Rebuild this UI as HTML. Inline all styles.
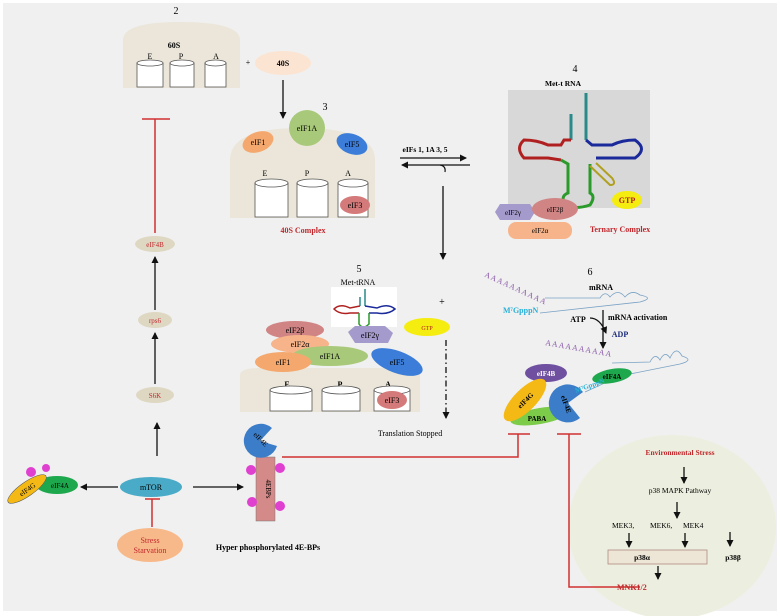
<!DOCTYPE html>
<html><head><meta charset="utf-8"><style>
html,body{margin:0;padding:0;background:#fff}
svg{display:block}
text{font-family:"Liberation Serif",serif}
</style></head><body>
<svg width="780" height="616" viewBox="0 0 780 616" xmlns="http://www.w3.org/2000/svg">
<defs>
<marker id="ah" markerUnits="userSpaceOnUse" markerWidth="8" markerHeight="8" refX="6" refY="4" orient="auto"><path d="M0,0.5 L7,4 L0,7.5 Z" fill="#111"/></marker>
</defs>
<rect x="3" y="3" width="774" height="608" fill="#f0f0f0"/>

<!-- Section 2 -->
<text x="176" y="14" font-size="10" text-anchor="middle">2</text>
<path d="M123,88 L123,40 Q123,22 180,22 Q240,22 240,40 L240,88 Z" fill="#ebe6d9"/>
<text x="174" y="48" font-size="8" font-weight="bold" text-anchor="middle">60S</text>
<g fill="#fff" stroke="#555" stroke-width="0.8">
<rect x="137" y="63" width="26" height="24"/><ellipse cx="150" cy="63" rx="13" ry="3"/>
<rect x="170" y="63" width="24" height="24"/><ellipse cx="182" cy="63" rx="12" ry="3"/>
<rect x="205" y="63" width="21" height="24"/><ellipse cx="215.5" cy="63" rx="10.5" ry="3"/>
</g>
<text x="150" y="59" font-size="8" text-anchor="middle">E</text>
<text x="181" y="59" font-size="8" text-anchor="middle">P</text>
<text x="216" y="59" font-size="8" text-anchor="middle">A</text>
<text x="248" y="65" font-size="8" text-anchor="middle">+</text>
<ellipse cx="283" cy="63" rx="28" ry="12" fill="#fbe4d2"/>
<text x="283" y="66" font-size="8" font-weight="bold" text-anchor="middle">40S</text>
<line x1="283" y1="80" x2="283" y2="118" stroke="#111" stroke-width="1.3" marker-end="url(#ah)"/>

<!-- Section 3 -->
<text x="325" y="110" font-size="10" text-anchor="middle">3</text>
<path d="M230,218 L230,160 Q230,128 300,128 Q375,128 375,160 L375,218 Z" fill="#ebe6d9"/>
<circle cx="307" cy="128" r="18" fill="#a8c97a"/>
<text x="307" y="131" font-size="8" text-anchor="middle">eIF1A</text>
<ellipse cx="258" cy="142" rx="16" ry="10" fill="#f4a86e" transform="rotate(-20 258 142)"/>
<text x="258" y="145" font-size="8" text-anchor="middle">eIF1</text>
<ellipse cx="352" cy="144" rx="16" ry="10" fill="#3b7dd8" transform="rotate(20 352 144)"/>
<text x="352" y="147" font-size="8" text-anchor="middle">eIF5</text>
<text x="265" y="176" font-size="8" text-anchor="middle">E</text>
<text x="307" y="176" font-size="8" text-anchor="middle">P</text>
<text x="348" y="176" font-size="8" text-anchor="middle">A</text>
<g fill="#fff" stroke="#555" stroke-width="0.8">
<rect x="255" y="183" width="33" height="34"/><ellipse cx="271.5" cy="183" rx="16.5" ry="4"/>
<rect x="297" y="183" width="31" height="34"/><ellipse cx="312.5" cy="183" rx="15.5" ry="4"/>
<rect x="338" y="183" width="30" height="34"/><ellipse cx="353" cy="183" rx="15" ry="4"/>
</g>
<ellipse cx="355" cy="205" rx="15" ry="9" fill="#d47a7a"/>
<text x="355" y="208" font-size="8" text-anchor="middle">eIF3</text>
<text x="303" y="233" font-size="8" font-weight="bold" fill="#c0282d" text-anchor="middle">40S Complex</text>

<!-- eIFs arrows -->
<text x="425" y="152" font-size="7.5" font-weight="bold" text-anchor="middle">eIFs 1, 1A 3, 5</text>
<line x1="400" y1="158" x2="466" y2="158" stroke="#111" stroke-width="1.2" marker-end="url(#ah)"/>
<line x1="470" y1="165" x2="402" y2="165" stroke="#111" stroke-width="1.2" marker-end="url(#ah)"/>
<path d="M440,165 Q446,166 445,172" fill="none" stroke="#111" stroke-width="1.2"/>
<line x1="443" y1="186" x2="443" y2="259" stroke="#111" stroke-width="1.3" marker-end="url(#ah)"/>

<!-- Section 4 -->
<text x="575" y="72" font-size="10" text-anchor="middle">4</text>
<text x="563" y="86" font-size="7.5" font-weight="bold" text-anchor="middle">Met-t RNA</text>
<rect x="508" y="90" width="142" height="118" fill="#d8d8d8"/>
<g fill="none" stroke-width="3">
<path d="M586,93 L586,140" stroke="#2a8a8a"/>
<path d="M571,114 L571,140" stroke="#2a8a8a"/>
<path d="M571,140 L564,140 L561,145 L548,145 Q537,140 524,140 Q515,148 524,158 Q537,158 548,158 L561,160" stroke="#b02020"/>
<path d="M586,140 L592,145 L612,145 Q622,140 635,140 Q648,149 635,158 Q622,158 612,158 L596,158" stroke="#1a2a9a"/>
<path d="M561,160 L568,164 L568,193 Q560,196 565,205 Q575,210 590,205 Q596,196 590,193 L590,164" stroke="#2a9a2a"/>
<path d="M590,166 L610,185 Q617,185 612,178 L596,163" stroke="#b0a020" stroke-width="2"/>
</g>
<ellipse cx="627" cy="200" rx="15" ry="9" fill="#f5ec10"/>
<text x="627" y="203" font-size="8" fill="#b02020" font-weight="bold" text-anchor="middle">GTP</text>
<path d="M495,212 L500,204 L530,204 L535,212 L530,220 L500,220 Z" fill="#a49acb"/>
<text x="513" y="215" font-size="7" text-anchor="middle">eIF2γ</text>
<ellipse cx="555" cy="209" rx="23" ry="11" fill="#d08484"/>
<text x="555" y="212" font-size="7" text-anchor="middle">eIF2β</text>
<rect x="508" y="222" width="64" height="17" rx="8" fill="#f7b48a"/>
<text x="540" y="233" font-size="7" text-anchor="middle">eIF2α</text>
<text x="620" y="232" font-size="8" font-weight="bold" fill="#c0282d" text-anchor="middle">Ternary Complex</text>

<!-- Section 5 -->
<text x="359" y="272" font-size="10" text-anchor="middle">5</text>
<text x="358" y="285" font-size="8" text-anchor="middle">Met-tRNA</text>
<path d="M240,412 L240,375 Q240,368 260,368 L420,368 L420,412 Z" fill="#ebe6d9"/>
<rect x="331" y="287" width="66" height="40" fill="#fff"/>
<g fill="none" stroke-width="1.5">
<path d="M365,289 L365,306 M360,297 L360,306" stroke="#2a8a8a"/>
<path d="M360,306 L350,308 Q340,303 334,309 Q340,315 350,313 L359,313" stroke="#b02020"/>
<path d="M365,306 L377,308 Q388,303 395,309 Q388,315 377,313 L369,313" stroke="#1a2a9a"/>
<path d="M359,313 L359,324 Q363,330 369,324 L369,313" stroke="#2a9a2a"/>
</g>
<ellipse cx="427" cy="327" rx="23" ry="9" fill="#f5ec10"/>
<text x="427" y="330" font-size="6" fill="#b02020" text-anchor="middle">GTP</text>
<ellipse cx="295" cy="330" rx="29" ry="9" fill="#d08484"/>
<text x="295" y="333" font-size="8" text-anchor="middle">eIF2β</text>
<path d="M348,332 L355,326 L385,326 L393,333 L388,343 L355,343 Z" fill="#a49acb"/>
<text x="370" y="338" font-size="8" text-anchor="middle">eIF2γ</text>
<ellipse cx="300" cy="344" rx="29" ry="9" fill="#f7b48a"/>
<text x="300" y="347" font-size="8" text-anchor="middle">eIF2α</text>
<ellipse cx="330" cy="356" rx="38" ry="10" fill="#a8c97a"/>
<text x="330" y="359" font-size="8" text-anchor="middle">eIF1A</text>
<ellipse cx="283" cy="362" rx="28" ry="10" fill="#f4a86e"/>
<text x="283" y="365" font-size="8" text-anchor="middle">eIF1</text>
<ellipse cx="397" cy="362" rx="27" ry="11" fill="#3b7dd8" transform="rotate(20 397 362)"/>
<text x="397" y="365" font-size="8" text-anchor="middle">eIF5</text>
<text x="287" y="387" font-size="8" font-weight="bold" text-anchor="middle">E</text>
<text x="340" y="387" font-size="8" font-weight="bold" text-anchor="middle">P</text>
<text x="388" y="387" font-size="8" font-weight="bold" text-anchor="middle">A</text>
<g fill="#fff" stroke="#555" stroke-width="0.8">
<rect x="270" y="390" width="42" height="21"/><ellipse cx="291" cy="390" rx="21" ry="4"/>
<rect x="322" y="390" width="38" height="21"/><ellipse cx="341" cy="390" rx="19" ry="4"/>
<rect x="374" y="390" width="36" height="21"/><ellipse cx="392" cy="390" rx="18" ry="4"/>
</g>
<ellipse cx="392" cy="400" rx="15" ry="9" fill="#d47a7a"/>
<text x="392" y="403" font-size="8" text-anchor="middle">eIF3</text>
<text x="442" y="305" font-size="10" text-anchor="middle">+</text>
<line x1="446" y1="340" x2="446" y2="418" stroke="#111" stroke-width="1.3" stroke-dasharray="6,3,1.5,3" marker-end="url(#ah)"/>
<text x="410" y="436" font-size="8" text-anchor="middle">Translation Stopped</text>

<!-- Section 6 -->
<text x="590" y="275" font-size="10" text-anchor="middle">6</text>
<text x="487" y="277" font-size="8" fill="#8a5aa8" transform="rotate(25 487 270)" letter-spacing="1">AAAAAAAAAA</text>
<text x="601" y="290" font-size="8" font-weight="bold" text-anchor="middle">mRNA</text>
<path d="M545,298 L600,298 Q605,290 610,297 Q618,288 625,297 Q632,289 640,295 Q655,298 640,302 L540,313" fill="none" stroke="#7aa2c4" stroke-width="0.8"/>
<text x="503" y="313" font-size="8" font-weight="bold" fill="#27b0d8">M⁷GpppN</text>
<text x="578" y="322" font-size="8" font-weight="bold" text-anchor="middle">ATP</text>
<text x="608" y="320" font-size="8" font-weight="bold">mRNA activation</text>
<text x="620" y="337" font-size="8" font-weight="bold" fill="#1a2a7a" text-anchor="middle">ADP</text>
<path d="M590,318 Q600,318 606,333" fill="none" stroke="#111" stroke-width="1.3" marker-end="url(#ah)"/>
<line x1="603" y1="310" x2="603" y2="348" stroke="#111" stroke-width="1.3" marker-end="url(#ah)"/>
<text x="545" y="345" font-size="8" fill="#8a5aa8" transform="rotate(10 545 345)" letter-spacing="1">AAAAAAAAAA</text>
<path d="M612,363 L650,362 Q655,352 660,360 Q665,350 670,358 Q676,345 682,356 Q695,360 680,364 L620,376 L585,392" fill="none" stroke="#7aa2c4" stroke-width="0.8"/>
<ellipse cx="612" cy="376" rx="20" ry="7" fill="#1ea84e" transform="rotate(-10 612 376)"/>
<text x="612" y="379" font-size="7" font-weight="bold" text-anchor="middle">eIF4A</text>
<ellipse cx="546" cy="373" rx="21" ry="9" fill="#6e4fa0"/>
<text x="546" y="376" font-size="7" font-weight="bold" fill="#fff" text-anchor="middle">eIF4B</text>
<ellipse cx="540" cy="416" rx="30" ry="8" fill="#7ccc4a" transform="rotate(-10 540 416)"/>
<text x="537" y="421" font-size="7" font-weight="bold" text-anchor="middle">PABA</text>
<ellipse cx="525" cy="400" rx="28" ry="11" fill="#f5b916" transform="rotate(-45 525 400)"/>
<text x="525" y="403" font-size="7" font-weight="bold" text-anchor="middle" transform="rotate(-45 525 400)">eIF4G</text>
<path d="M568,403 L580,418 A19,19 0 1 1 583,392 Z" fill="#3b7dc8"/>
<text x="564" y="405" font-size="7" font-weight="bold" text-anchor="middle" transform="rotate(70 564 405)">eIF4E</text>
<text x="576" y="393" font-size="7" font-weight="bold" fill="#27b0d8" transform="rotate(-20 576 393)">M⁷GpppN</text>

<!-- Left pathway -->
<line x1="155" y1="119" x2="155" y2="233" stroke="#d03030" stroke-width="1.5"/>
<line x1="142" y1="119" x2="170" y2="119" stroke="#d03030" stroke-width="1.5"/>
<ellipse cx="155" cy="244" rx="20" ry="8" fill="#ded7c2"/>
<text x="155" y="247" font-size="7" fill="#c0282d" text-anchor="middle">eIF4B</text>
<line x1="155" y1="310" x2="155" y2="257" stroke="#111" stroke-width="1.3" marker-end="url(#ah)"/>
<ellipse cx="155" cy="320" rx="17" ry="8" fill="#ded7c2"/>
<text x="155" y="323" font-size="7" fill="#c0282d" text-anchor="middle">rps6</text>
<line x1="155" y1="384" x2="155" y2="333" stroke="#111" stroke-width="1.3" marker-end="url(#ah)"/>
<ellipse cx="155" cy="395" rx="19" ry="8" fill="#ded7c2"/>
<text x="155" y="398" font-size="7" fill="#c0282d" text-anchor="middle">S6K</text>
<line x1="157" y1="456" x2="157" y2="423" stroke="#111" stroke-width="1.3" marker-end="url(#ah)"/>
<ellipse cx="151" cy="487" rx="31" ry="10" fill="#4aabc8"/>
<text x="151" y="490" font-size="8" text-anchor="middle">mTOR</text>
<line x1="118" y1="487" x2="81" y2="487" stroke="#111" stroke-width="1.3" marker-end="url(#ah)"/>
<line x1="193" y1="487" x2="243" y2="487" stroke="#111" stroke-width="1.3" marker-end="url(#ah)"/>
<ellipse cx="57" cy="485" rx="21" ry="9" fill="#1ea84e"/>
<text x="60" y="488" font-size="7" text-anchor="middle">eIF4A</text>
<circle cx="31" cy="472" r="5" fill="#e040d0"/><circle cx="46" cy="468" r="4" fill="#e040d0"/>
<ellipse cx="27" cy="489" rx="23" ry="7" fill="#f5b916" stroke="#555" stroke-width="0.5" transform="rotate(-35 27 489)"/>
<text x="27" y="492" font-size="7" text-anchor="middle" transform="rotate(-35 27 489)">eIF4G</text>
<line x1="152" y1="499" x2="152" y2="527" stroke="#d03030" stroke-width="1.5"/>
<line x1="145" y1="499" x2="160" y2="499" stroke="#d03030" stroke-width="1.5"/>
<ellipse cx="150" cy="545" rx="33" ry="17" fill="#f8b98a"/>
<text x="150" y="543" font-size="8" fill="#c0282d" text-anchor="middle">Stress</text>
<text x="150" y="553" font-size="8" fill="#c0282d" text-anchor="middle">Starvation</text>
<rect x="256" y="457" width="19" height="64" fill="#d48a88" stroke="#777" stroke-width="0.5"/>
<text x="266" y="489" font-size="7" text-anchor="middle" transform="rotate(90 266 489)">4EBPs</text>
<circle cx="251" cy="470" r="5" fill="#e040d0"/><circle cx="280" cy="468" r="5" fill="#e040d0"/>
<circle cx="252" cy="502" r="5" fill="#e040d0"/><circle cx="280" cy="506" r="5" fill="#e040d0"/>
<path d="M260,441 L277,446 A17,17 0 1 1 272,428 Z" fill="#3b7dc8"/>
<text x="259" y="441" font-size="7" text-anchor="middle" transform="rotate(45 259 441)">eIF4E</text>
<text x="268" y="550" font-size="8" font-weight="bold" text-anchor="middle">Hyper phosphorylated  4E-BPs</text>

<!-- Red inhibition lines -->
<polyline points="282,457 518,457 518,434" fill="none" stroke="#d03030" stroke-width="1.5"/>
<line x1="508" y1="434" x2="530" y2="434" stroke="#d03030" stroke-width="1.5"/>

<!-- Stress ellipse -->
<ellipse cx="672" cy="527" rx="104" ry="92" fill="#ecefdf"/>
<polyline points="640,587 569,587 569,434" fill="none" stroke="#d03030" stroke-width="1.5"/>
<line x1="557" y1="434" x2="581" y2="434" stroke="#d03030" stroke-width="1.5"/>
<text x="680" y="455" font-size="7.5" font-weight="bold" fill="#c0282d" text-anchor="middle">Environmental Stress</text>
<line x1="684" y1="467" x2="684" y2="483" stroke="#111" stroke-width="1.3" marker-end="url(#ah)"/>
<text x="680" y="493" font-size="7.5" text-anchor="middle">p38 MAPK Pathway</text>
<line x1="677" y1="502" x2="677" y2="518" stroke="#111" stroke-width="1.3" marker-end="url(#ah)"/>
<text x="612" y="528" font-size="7.5">MEK3,</text>
<text x="650" y="528" font-size="7.5">MEK6,</text>
<text x="683" y="528" font-size="7.5">MEK4</text>
<line x1="629" y1="533" x2="629" y2="547" stroke="#111" stroke-width="1.3" marker-end="url(#ah)"/>
<line x1="685" y1="533" x2="685" y2="547" stroke="#111" stroke-width="1.3" marker-end="url(#ah)"/>
<line x1="730" y1="532" x2="730" y2="546" stroke="#111" stroke-width="1.3" marker-end="url(#ah)"/>
<rect x="608" y="550" width="99" height="14" fill="#ede6d6" stroke="#b08a80" stroke-width="0.8"/>
<text x="642" y="560" font-size="7.5" font-weight="bold" text-anchor="middle">p38α</text>
<text x="733" y="560" font-size="7.5" font-weight="bold" text-anchor="middle">p38β</text>
<line x1="658" y1="566" x2="658" y2="579" stroke="#111" stroke-width="1.3" marker-end="url(#ah)"/>
<text x="617" y="590" font-size="8" font-weight="bold" fill="#c0282d">MNK1/2</text>
</svg>
</body></html>
